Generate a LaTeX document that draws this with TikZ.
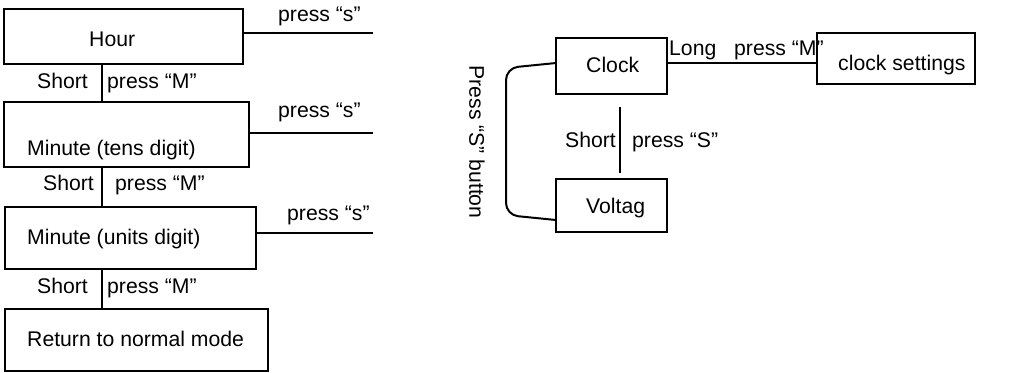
\documentclass[tikz,border=0pt]{standalone}
\usepackage{fontspec}
\setmainfont{Liberation Sans}
\usetikzlibrary{calc}
\begin{document}
\begin{tikzpicture}[x=1bp,y=-1bp,
  every node/.style={font=\fontsize{21.2bp}{25bp}\selectfont},
  boxn/.style={draw,line width=1.1bp,inner sep=0pt,outer sep=0pt},
  txt/.style={inner sep=0pt,anchor=base west},
  conn/.style={line width=1.1bp}]
\useasboundingbox (0,0) rectangle (1019,372);
% left column boxes
\node[boxn,minimum width=239bp,minimum height=55bp] (hour) at (123.5,36.5) {};
\node[boxn,minimum width=245bp,minimum height=65bp] (mtens) at (126.5,134.5) {};
\node[boxn,minimum width=251bp,minimum height=62bp] (munits) at (130.5,238) {};
\node[boxn,minimum width=263bp,minimum height=62bp] (ret) at (136.5,340) {};
% texts in boxes
\node[txt] (thour) at (89,46) {Hour};
\begin{scope}
\clip (0,138) rectangle (260,162);
\node[txt] (tmtens) at (27,155) {Minute (tens digit)};
\end{scope}
\node[txt] (tmunits) at (27,244) {Minute (units digit)};
\node[txt] (tret) at (27,346) {Return to normal mode};
% spine
\coordinate (spine) at (102,0);
\draw[conn] (hour.south -| spine) -- (mtens.north -| spine);
\draw[conn] (mtens.south -| spine) -- (munits.north -| spine);
\draw[conn] (munits.south -| spine) -- (ret.north -| spine);
\node[txt] (s1) at (37,88) {Short};
\node[txt] (m1) at (107,88) {press “M”};
\node[txt] (s2) at (43,190) {Short};
\node[txt] (m2) at (115,190) {press “M”};
\node[txt] (s3) at (37,293) {Short};
\node[txt] (m3) at (107,293) {press “M”};
% press s lines
\coordinate (e1) at ($(hour.east)+(0,-3.5)$);
\coordinate (f1) at (373,0);
\draw[conn] (e1) -- (e1 -| f1);
\coordinate (e2) at ($(mtens.east)+(0,-1.5)$);
\draw[conn] (e2) -- (e2 -| f1);
\coordinate (e3) at ($(munits.east)+(0,-5)$);
\draw[conn] (e3) -- (e3 -| f1);
\node[txt] (ps1) at (278,21) {press “s”};
\node[txt] (ps2) at (278,117) {press “s”};
\node[txt] (ps3) at (287,220) {press “s”};
% right part
\node[boxn,minimum width=111bp,minimum height=56bp] (clock) at (611.5,66) {};
\node[boxn,minimum width=158bp,minimum height=51bp] (settings) at (896,58.5) {};
\node[boxn,minimum width=111bp,minimum height=53bp] (voltag) at (611.5,205.5) {};
\node[txt] (tclock) at (586,72) {Clock};
\node[txt] (tsettings) at (838,70) {clock settings};
\node[txt] (tvoltag) at (586,213) {Voltag};
\coordinate (c1) at ($(clock.east)+(0,-3)$);
\draw[conn] (c1) -- (c1 -| settings.west);
\node[txt] (tlong) at (669,55) {Long};
\node[txt] (tpm) at (734,55) {press “M”};
\draw[conn] ($(clock.south)+(8.5,13)$) -- ($(voltag.north)+(8.5,-6)$);
\node[txt] (ts) at (565,147) {Short};
\node[txt] (tpS) at (632,147) {press “S”};
\draw[line width=2bp,rounded corners=12bp] ($(clock.west)+(0,-3)$) -- (506,68) -- (506,215) -- ($(voltag.west)+(0,14.5)$);
\node[inner sep=0pt,rotate=-90] (tbtn) at (477,142) {Press “S” button};
\end{tikzpicture}
\end{document}
